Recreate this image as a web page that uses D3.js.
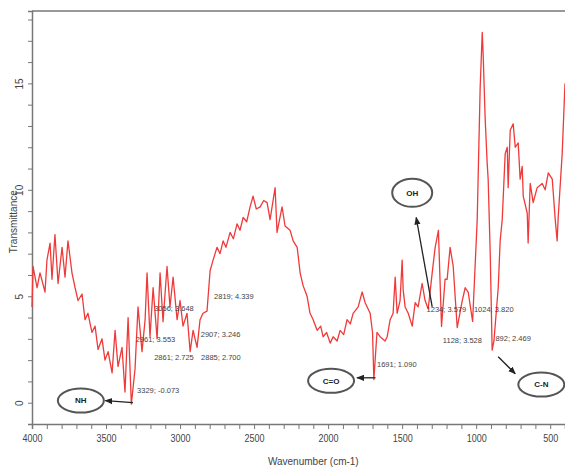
<!DOCTYPE html>
<html>
<head>
<meta charset="utf-8">
<script src="https://cdn.jsdelivr.net/npm/d3@7"></script>
<style>
  body { margin: 0; background: #fff; }
  svg { display: block; font-family: "Liberation Sans", Arial, sans-serif; }
</style>
</head>
<body>
<svg id="Spectrum" width="565" height="471"></svg>
<script>
// spectrum (wavenumber, transmittance)
var wavenumber = [4000, 3993, 3966, 3946, 3912, 3899, 3878, 3865, 3845, 3824, 3797, 3777, 3757, 3730, 3709,
  3689, 3662, 3642, 3622, 3595, 3574, 3554, 3527, 3507, 3486, 3459, 3439, 3419, 3392, 3372, 3351, 3329,
  3304, 3284, 3257, 3236, 3223, 3203, 3182, 3155, 3135, 3115, 3088, 3068, 3047, 3020, 3000, 2980, 2953,
  2932, 2912, 2885, 2865, 2845, 2818, 2797, 2777, 2750, 2730, 2709, 2690, 2662, 2640, 2615, 2595, 2574,
  2550, 2527, 2507, 2485, 2459, 2435, 2412, 2392, 2358, 2345, 2311, 2291, 2257, 2236, 2209, 2189, 2169,
  2142, 2122, 2101, 2074, 2050, 2034, 2010, 1986, 1966, 1939, 1919, 1895, 1872, 1850, 1831, 1797, 1770,
  1750, 1716, 1700, 1691, 1670, 1649, 1615, 1601, 1581, 1561, 1547, 1534, 1514, 1500, 1493, 1480, 1459,
  1432, 1412, 1392, 1365, 1345, 1324, 1297, 1277, 1255, 1234, 1210, 1196, 1176, 1155, 1142, 1128, 1094,
  1074, 1054, 1024, 993, 973, 959, 953, 939, 926, 919, 905, 892, 880, 851, 838, 824, 804, 790, 784, 770,
  750, 736, 716, 703, 689, 682, 655, 649, 635, 615, 588, 554, 534, 513, 486, 466, 453, 446, 419, 400];
var transmittance = [4.5, 6.4, 5.4, 6.1, 5.2, 6.7, 7.5, 5.8, 7.9, 5.6, 7.3, 5.9, 7.6, 6.1, 5.4,
  4.8, 5.1, 3.9, 4.2, 3.3, 3.6, 2.5, 3.0, 2.0, 2.4, 1.4, 3.4, 1.7, 2.6, 0.5, 4.0, -0.07,
  1.6, 4.5, 2.4, 3.9, 6.1, 3.1, 5.4, 3.0, 6.1, 3.8, 6.4, 4.5, 5.9, 3.9, 4.8, 3.6, 4.2,
  2.4, 3.4, 2.6, 3.9, 4.2, 4.3, 6.2, 6.7, 7.3, 7.0, 7.6, 7.3, 8.0, 7.7, 8.4, 8.1, 8.7,
  8.5, 9.2, 9.7, 9.1, 9.2, 9.5, 9.4, 8.6, 10.1, 8.0, 9.2, 8.3, 8.1, 7.6, 7.3, 6.1, 5.5,
  5.0, 4.2, 3.9, 3.4, 3.6, 3.1, 3.3, 2.8, 3.1, 2.9, 3.4, 3.2, 3.9, 3.7, 4.2, 4.5, 5.2,
  4.7, 4.2, 3.3, 1.09, 3.3, 3.1, 2.9, 3.1, 3.9, 4.2, 5.9, 4.2, 4.8, 6.7, 5.3, 4.5, 4.2,
  3.6, 4.7, 4.5, 5.6, 4.8, 4.4, 6.1, 7.3, 8.1, 3.58, 5.8, 5.8, 7.3, 6.4, 5.0, 3.53, 4.8,
  5.4, 5.2, 3.82, 8.6, 14.8, 17.4, 16.4, 13.3, 11.3, 10.5, 7.0, 2.47, 2.9, 5.4, 7.6, 8.6, 11.7, 12.0, 10.1, 12.8,
  13.1, 12.0, 12.2, 10.5, 11.1, 9.7, 8.9, 7.5, 10.3, 9.4, 10.1, 10.3, 10.0, 10.8, 10.5, 8.6, 7.6, 8.7, 11.7, 15.0];

var xTickLabels = [4000, 3500, 3000, 2500, 2000, 1500, 1000, 500];
var yTickLabels = [0, 5, 10, 15];

// peak labels
var peakText = ["3329; -0.073", "2961; 3.553", "3056; 3.648", "2907; 3.246", "2861; 2.725", "2885; 2.700",
  "2819; 4.339", "1691; 1.090", "1234; 3.579", "1128; 3.528", "1024; 3.820", "892; 2.469"];
var peakWn = [3290, 3300, 3175, 2860, 3175, 2858, 2770, 1670, 1335, 1225, 1015, 870];
var peakT = [0.45, 2.85, 4.3, 3.1, 2.0, 2.0, 4.85, 1.7, 4.25, 2.8, 4.25, 2.9];

// group circles
var groupName = ["NH", "C=O", "OH", "C-N"];
var groupWn = [3670, 1980, 1432, 560];
var groupT = [0.1, 1.03, 9.86, 0.85];

// arrows: from the peak to the circle
var arrowFrom = [[3318, 0.0], [1680, 1.17], [1297, 4.5], [851, 2.16]];
var arrowTo = [[3505, 0.1], [1805, 1.17], [1405, 8.7], [736, 1.36]];

var margin = { top: 11, bottom: 47, left: 32, right: 0 };
var svg = d3.select("#Spectrum");
var width = +svg.attr("width");
var height = +svg.attr("height");

var x = d3.scaleLinear()
          .domain([4000, 400])
          .range([margin.left, width - margin.right]);

var y = d3.scaleLinear()
          .domain([-1, 18.4])
          .range([height - margin.bottom, margin.top]);

var axisColor = "#777";
var textColor = "#444";

// frame
svg.append("line")
   .attr("x1", margin.left).attr("x2", width)
   .attr("y1", margin.top).attr("y2", margin.top)
   .attr("stroke", "#999").attr("stroke-width", 2);

var xAxis = d3.axisBottom(x)
              .tickValues(d3.range(4000, 399, -100))
              .tickSize(5)
              .tickFormat(d => xTickLabels.includes(d) ? d : "");

var gx = svg.append("g")
   .attr("transform", `translate(0,${height - margin.bottom})`)
   .call(xAxis);
gx.select(".domain").attr("stroke", axisColor).attr("stroke-width", 1.5);
gx.selectAll(".tick line").attr("stroke", axisColor);
gx.selectAll(".tick text")
   .attr("fill", textColor)
   .attr("dy", "1.05em")
   .style("font-size", "10px")
   .attr("transform", "scale(0.9,1)");

var yAxis = d3.axisLeft(y)
              .tickValues(d3.range(0, 19, 1))
              .tickSize(4)
              .tickFormat(d => yTickLabels.includes(d) ? d : "");

var gy = svg.append("g")
   .attr("transform", `translate(${margin.left},0)`)
   .call(yAxis);
gy.select(".domain").attr("stroke", axisColor).attr("stroke-width", 1.5);
gy.selectAll(".tick line").attr("stroke", axisColor);
gy.selectAll(".tick text")
   .attr("fill", textColor)
   .style("font-size", "10px")
   .attr("text-anchor", "middle")
   .attr("x", 0).attr("dy", 0)
   .attr("transform", "translate(-9,0) rotate(-90)");

// axis titles
svg.append("text")
   .attr("x", x(2100))
   .attr("y", height - 6)
   .attr("text-anchor", "middle")
   .attr("fill", textColor)
   .style("font-size", "10px")
   .text("Wavenumber (cm-1)");

svg.append("text")
   .attr("transform", "rotate(-90)")
   .attr("x", -y(8.5))
   .attr("y", 17)
   .attr("text-anchor", "middle")
   .attr("fill", textColor)
   .style("font-size", "10px")
   .text("Transmittance");

// spectrum
var spectrum = wavenumber.map((w, i) => ({ w: w, t: transmittance[i] }));
var line = d3.line()
             .x(d => x(d.w))
             .y(d => y(d.t));

svg.append("path")
   .datum(spectrum)
   .attr("fill", "none")
   .attr("stroke", "#f03a3a")
   .attr("stroke-width", 1.3)
   .attr("stroke-linejoin", "round")
   .attr("d", line);

// peak labels
svg.append("g")
   .selectAll("text")
   .data(peakText)
   .enter()
   .append("text")
   .attr("x", (d, i) => x(peakWn[i]))
   .attr("y", (d, i) => y(peakT[i]))
   .attr("fill", textColor)
   .style("font-size", "7.5px")
   .text(d => d);

// arrows
var defs = svg.append("defs");
defs.append("marker")
    .attr("id", "head")
    .attr("viewBox", "0 0 10 10")
    .attr("refX", 9).attr("refY", 5)
    .attr("markerWidth", 6).attr("markerHeight", 6)
    .attr("orient", "auto")
    .append("path")
    .attr("d", "M0,1 L10,5 L0,9 z")
    .attr("fill", "#222");

svg.append("g")
   .selectAll("line")
   .data(arrowFrom)
   .enter()
   .append("line")
   .attr("x1", d => x(d[0])).attr("y1", d => y(d[1]))
   .attr("x2", (d, i) => x(arrowTo[i][0])).attr("y2", (d, i) => y(arrowTo[i][1]))
   .attr("stroke", "#222")
   .attr("stroke-width", 1.3)
   .attr("marker-end", "url(#head)");

// group ellipses
var groups = svg.append("g")
   .selectAll("g")
   .data(groupName)
   .enter()
   .append("g")
   .attr("transform", (d, i) => `translate(${x(groupWn[i])},${y(groupT[i])})`);

groups.append("ellipse")
   .attr("rx", (d, i) => i == 2 ? 20 : 23)
   .attr("ry", (d, i) => i == 2 ? 14 : 12)
   .attr("fill", "#fff")
   .attr("stroke", "#555")
   .attr("stroke-width", 2);

groups.append("text")
   .attr("text-anchor", "middle")
   .attr("dy", "0.35em")
   .attr("fill", "#222")
   .style("font-size", "8px")
   .style("font-weight", "bold")
   .text(d => d);
</script>
</body>
</html>
